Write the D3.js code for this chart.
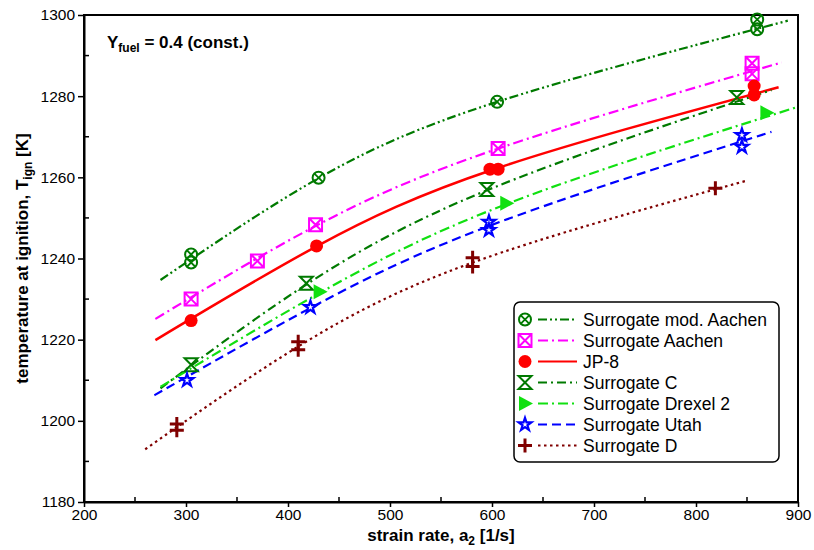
<!DOCTYPE html>
<html>
<head>
<meta charset="utf-8">
<script src="https://cdn.jsdelivr.net/npm/d3@7"></script>
<style>
  body { margin: 0; background: #fff; }
  text { font-family: "Liberation Sans", Arial, sans-serif; }
</style>
</head>
<body>
<div id="chart"></div>
<script>
// svg size
var svgWidth = 814;
var svgHeight = 550;

var margin = { top: 15, right: 16, bottom: 48, left: 84 };
var width = svgWidth - margin.left - margin.right;
var height = svgHeight - margin.top - margin.bottom;

// data
var seriesNames = ["Surrogate mod. Aachen", "Surrogate Aachen", "JP-8", "Surrogate C",
  "Surrogate Drexel 2", "Surrogate Utah", "Surrogate D"];

// measured points (markers)
var modAachenX = [305, 305, 430, 605, 860, 860];
var modAachenY = [1241, 1239, 1259.9, 1278.6, 1298.9, 1296.5];
var aachenX = [305, 370, 427, 606, 855, 855];
var aachenY = [1230, 1239.4, 1248.3, 1267.1, 1288.1, 1285.5];
var jp8X = [305, 428, 598, 606, 857, 857];
var jp8Y = [1224.7, 1243.1, 1262, 1262, 1282.5, 1280.3];
var surCX = [305, 418, 595, 840];
var surCY = [1213.8, 1233.9, 1257, 1279.7];
var drexelX = [431, 614, 869];
var drexelY = [1231.8, 1253.6, 1275.9];
var utahX = [301, 422, 597, 597, 845, 845];
var utahY = [1210, 1228, 1249, 1247, 1270.4, 1267.5];
var surDX = [291, 291, 410, 410, 581, 581, 819];
var surDY = [1199.2, 1197.7, 1217.5, 1219.5, 1240.2, 1238, 1257.3];

// fitted curves (points along each line)
var modAachenFitX = [275, 430, 605, 890];
var modAachenFitY = [1234.7, 1259.8, 1278.6, 1298.6];
var aachenFitX = [270, 427, 605, 884];
var aachenFitY = [1225.1, 1248, 1267, 1288.3];
var jp8FitX = [270, 428, 602, 881];
var jp8FitY = [1219.9, 1243, 1262, 1282.2];
var surCFitX = [275, 418, 595, 874];
var surCFitY = [1208, 1233.6, 1256.8, 1281.5];
var drexelFitX = [275, 431, 614, 899];
var drexelFitY = [1208.4, 1231.5, 1253.4, 1277.3];
var utahFitX = [269, 422, 597, 874];
var utahFitY = [1206.3, 1227.8, 1248, 1271.2];
var surDFitX = [260, 410, 581, 850];
var surDFitY = [1193, 1218.3, 1239, 1259.2];

var xTicks = [200, 300, 400, 500, 600, 700, 800, 900];
var yTicks = [1180, 1200, 1220, 1240, 1260, 1280, 1300];

var series = [
  { name: seriesNames[0], x: modAachenX, y: modAachenY, fx: modAachenFitX, fy: modAachenFitY,
    color: "#007a00", dash: "9,3,2,3,2,3", marker: "circleX" },
  { name: seriesNames[1], x: aachenX, y: aachenY, fx: aachenFitX, fy: aachenFitY,
    color: "#ff00ff", dash: "10,4,2,4", marker: "squareX" },
  { name: seriesNames[2], x: jp8X, y: jp8Y, fx: jp8FitX, fy: jp8FitY,
    color: "#ff0000", dash: null, marker: "dot" },
  { name: seriesNames[3], x: surCX, y: surCY, fx: surCFitX, fy: surCFitY,
    color: "#007a00", dash: "9,4,2,4", marker: "hourglass" },
  { name: seriesNames[4], x: drexelX, y: drexelY, fx: drexelFitX, fy: drexelFitY,
    color: "#11e011", dash: "10,4,2,4", marker: "triangle" },
  { name: seriesNames[5], x: utahX, y: utahY, fx: utahFitX, fy: utahFitY,
    color: "#0000ff", dash: "9,5", marker: "star" },
  { name: seriesNames[6], x: surDX, y: surDY, fx: surDFitX, fy: surDFitY,
    color: "#800000", dash: "2.5,3.5", marker: "plus" }
];

var svg = d3.select("#chart")
  .append("svg")
  .attr("width", svgWidth)
  .attr("height", svgHeight);

var chartGroup = svg.append("g")
  .attr("transform", `translate(${margin.left}, ${margin.top})`);

var xScale = d3.scaleLinear().domain([200, 900]).range([0, width]);
var yScale = d3.scaleLinear().domain([1180, 1300]).range([height, 0]);

svg.append("defs").append("clipPath").attr("id", "plotClip")
  .append("rect").attr("width", width).attr("height", height);

// frame
chartGroup.append("rect")
  .attr("width", width).attr("height", height)
  .attr("fill", "none").attr("stroke", "#000").attr("stroke-width", 2);

// minor ticks point inward
var xMinor = d3.range(250, 900, 100);
var yMinor = d3.range(1190, 1300, 20);
chartGroup.selectAll(".xminor").data(xMinor).enter().append("line")
  .attr("x1", d => xScale(d)).attr("x2", d => xScale(d))
  .attr("y1", height).attr("y2", height - 5)
  .attr("stroke", "#000").attr("stroke-width", 1.5);
chartGroup.selectAll(".yminor").data(yMinor).enter().append("line")
  .attr("x1", 0).attr("x2", 5)
  .attr("y1", d => yScale(d)).attr("y2", d => yScale(d))
  .attr("stroke", "#000").attr("stroke-width", 1.5);

// axes
var bottomAxis = d3.axisBottom(xScale).tickValues(xTicks).tickFormat(d3.format("d"))
  .tickSize(5).tickPadding(2).tickSizeOuter(0);
var leftAxis = d3.axisLeft(yScale).tickValues(yTicks).tickFormat(d3.format("d"))
  .tickSize(6).tickPadding(3).tickSizeOuter(0);

var xAxisG = chartGroup.append("g")
  .attr("transform", `translate(0, ${height})`)
  .call(bottomAxis);
var yAxisG = chartGroup.append("g").call(leftAxis);

[xAxisG, yAxisG].forEach(function(g) {
  g.select(".domain").attr("stroke-width", 2);
  g.selectAll(".tick line").attr("stroke-width", 1.5);
  g.selectAll(".tick text")
    .attr("font-family", "'Liberation Sans', Arial, sans-serif")
    .attr("font-size", "15.5px").attr("fill", "#000");
});

// lines
var lineGen = d3.line()
  .x(d => xScale(d[0]))
  .y(d => yScale(d[1]))
  .curve(d3.curveNatural);

var plot = chartGroup.append("g").attr("clip-path", "url(#plotClip)");

series.forEach(function(s) {
  var pts = s.fx.map((v, i) => [v, s.fy[i]]);
  plot.append("path")
    .datum(pts)
    .attr("d", lineGen)
    .attr("fill", "none")
    .attr("stroke", s.color)
    .attr("stroke-width", s.marker === "dot" ? 2.5 : 2.2)
    .attr("stroke-dasharray", s.dash);
});

// marker drawing
function drawMarker(g, type, color) {
  if (type === "circleX") {
    g.append("circle").attr("r", 6).attr("fill", "none")
      .attr("stroke", color).attr("stroke-width", 2);
    g.append("path").attr("d", "M-4.2,-4.2L4.2,4.2M-4.2,4.2L4.2,-4.2")
      .attr("stroke", color).attr("stroke-width", 1.8);
  } else if (type === "squareX") {
    g.append("path").attr("d", "M-6.5,-6.5H6.5V6.5H-6.5ZM-6.5,-6.5L6.5,6.5M-6.5,6.5L6.5,-6.5")
      .attr("fill", "none").attr("stroke", color).attr("stroke-width", 2);
  } else if (type === "dot") {
    g.append("circle").attr("r", 6.5).attr("fill", color);
  } else if (type === "hourglass") {
    g.append("path").attr("d", "M-6.5,-6.5H6.5L-6.5,6.5H6.5Z")
      .attr("fill", "none").attr("stroke", color).attr("stroke-width", 2);
  } else if (type === "triangle") {
    g.append("path").attr("d", "M-6,-7.5L8,0L-6,7.5Z").attr("fill", color);
  } else if (type === "star") {
    g.append("path").attr("d", d3.symbol(d3.symbolStar, 50)())
      .attr("fill", "#fff").attr("stroke", color).attr("stroke-width", 2.2);
  } else if (type === "plus") {
    g.append("path").attr("d", "M-7,0H7M0,-7V7")
      .attr("stroke", color).attr("stroke-width", 3);
  }
}

series.forEach(function(s) {
  s.x.forEach(function(v, i) {
    var g = chartGroup.append("g")
      .attr("transform", `translate(${xScale(v)}, ${yScale(s.y[i])})`);
    drawMarker(g, s.marker, s.color);
  });
});

// annotation
var ann = chartGroup.append("text")
  .attr("x", 23).attr("y", 33)
  .attr("font-size", "17px").attr("font-weight", "bold");
ann.append("tspan").text("Y");
ann.append("tspan").attr("font-size", "12px").attr("dy", 4).text("fuel");
ann.append("tspan").attr("dy", -4).text(" = 0.4 (const.)");

// legend
var legend = chartGroup.append("g")
  .attr("transform", `translate(${514 - margin.left}, ${302 - margin.top})`);
legend.append("rect")
  .attr("width", 265).attr("height", 160).attr("rx", 6)
  .attr("fill", "#fff").attr("stroke", "#000").attr("stroke-width", 1.5);

series.forEach(function(s, i) {
  var yy = 17.5 + i * 21;
  legend.append("line")
    .attr("x1", 24).attr("x2", 63).attr("y1", yy).attr("y2", yy)
    .attr("stroke", s.color).attr("stroke-width", 2)
    .attr("stroke-dasharray", s.dash);
  var g = legend.append("g").attr("transform", `translate(11, ${yy})`);
  drawMarker(g, s.marker, s.color);
  legend.append("text")
    .attr("x", 69).attr("y", yy + 6)
    .attr("font-size", "17.5px")
    .text(s.name);
});

// axis titles
var xt = svg.append("text")
  .attr("x", margin.left + width / 2).attr("y", 541)
  .attr("text-anchor", "middle")
  .attr("font-size", "17px").attr("font-weight", "bold");
xt.append("tspan").text("strain rate, a");
xt.append("tspan").attr("font-size", "12px").attr("dy", 4).text("2");
xt.append("tspan").attr("dy", -4).text(" [1/s]");

var yt = svg.append("text")
  .attr("transform", `translate(28, ${margin.top + height / 2}) rotate(-90)`)
  .attr("text-anchor", "middle")
  .attr("font-size", "17px").attr("font-weight", "bold");
yt.append("tspan").text("temperature at ignition, T");
yt.append("tspan").attr("font-size", "12px").attr("dy", 4).text("ign");
yt.append("tspan").attr("dy", -4).text(" [K]");
</script>
</body>
</html>
